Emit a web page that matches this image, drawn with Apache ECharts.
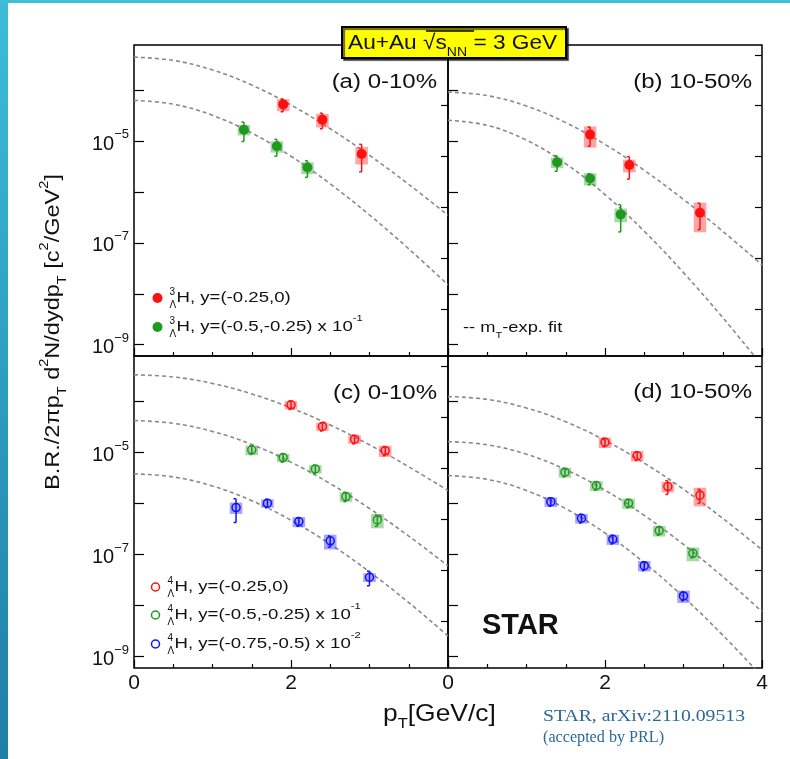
<!DOCTYPE html>
<html><head><meta charset="utf-8">
<script src="https://cdn.jsdelivr.net/npm/echarts@6/dist/echarts.min.js"></script>
<style>html,body{margin:0;padding:0;background:#fff}#c{width:790px;height:759px}</style>
</head><body><div id="c"></div><script>
// ---------------- data ----------------
const xTicks = [0, 2, 4];
const yDecadeTicks = [1e-9, 1e-8, 1e-7, 1e-6, 1e-5, 1e-4];
const yFiveTicks = [5e-9, 5e-8, 5e-7, 5e-6, 5e-5, 5e-4];
const yLabeled = [1e-9, 1e-7, 1e-5];

// fit curves (m_T-exponential), read at these pT values
const fitPt = [0, 0.5, 1, 1.5, 2, 2.5, 3, 3.5, 4];
const fitA_y1 = [4.50e-4, 3.88e-4, 2.52e-4, 1.27e-4, 5.15e-5, 1.76e-5, 5.27e-6, 1.42e-6, 3.51e-7];
const fitA_y2 = [6.37e-5, 5.36e-5, 3.23e-5, 1.45e-5, 5.07e-6, 1.45e-6, 3.55e-7, 7.67e-8, 1.50e-8];
const fitB_y1 = [9.27e-5, 7.88e-5, 4.91e-5, 2.32e-5, 8.67e-6, 2.68e-6, 7.16e-7, 1.70e-7, 3.71e-8];
const fitB_y2 = [2.58e-5, 2.05e-5, 1.05e-5, 3.61e-6, 8.95e-7, 1.70e-7, 2.61e-8, 3.41e-9, 3.9e-10];
const fitC_y1 = [3.34e-4, 3.03e-4, 2.26e-4, 1.41e-4, 7.50e-5, 3.46e-5, 1.42e-5, 5.26e-6, 1.80e-6];
const fitC_y2 = [4.24e-5, 3.74e-5, 2.59e-5, 1.44e-5, 6.49e-6, 2.46e-6, 8.02e-7, 2.31e-7, 6.0e-8];
const fitC_y3 = [3.82e-6, 3.33e-6, 2.21e-6, 1.14e-6, 4.72e-7, 1.60e-7, 4.59e-8, 1.15e-8, 2.55e-9];
const fitD_y1 = [1.25e-4, 1.10e-4, 7.47e-5, 4.00e-5, 1.73e-5, 6.22e-6, 1.91e-6, 5.13e-7, 1.24e-7];
const fitD_y2 = [1.64e-5, 1.42e-5, 9.27e-6, 4.63e-6, 1.83e-6, 5.87e-7, 1.58e-7, 3.69e-8, 7.62e-9];
const fitD_y3 = [3.54e-6, 2.98e-6, 1.80e-6, 7.94e-7, 2.65e-7, 6.93e-8, 1.48e-8, 2.64e-9, 4.1e-10];

// (a) 3H 0-10%
const ptA1 = [1.9, 2.4, 2.9];
const valA1 = [5.3e-5, 2.66e-5, 5.6e-6];
const statA1 = [1.5e-5, 9e-6, 3.1e-6];
const sysA1 = [1.4e-5, 8e-6, 2.1e-6];
const ptA2 = [1.4, 1.82, 2.21];
const valA2 = [1.69e-5, 7.98e-6, 3.05e-6];
const statA2 = [7e-6, 2.9e-6, 1.1e-6];
const sysA2 = [3.9e-6, 2e-6, 8e-7];
// (b) 3H 10-50%
const ptB1 = [1.81, 2.31, 3.21];
const valB1 = [1.35e-5, 3.4e-6, 3.93e-7];
const statB1 = [5.5e-6, 1.6e-6, 2.1e-7];
const sysB1 = [6e-6, 9.5e-7, 2.3e-7];
const ptB2 = [1.39, 1.81, 2.2];
const valB2 = [3.87e-6, 1.85e-6, 3.65e-7];
const statB2 = [1.3e-6, 4.5e-7, 2e-7];
const sysB2 = [9e-7, 5e-7, 1.1e-7];
// (c) 4H 0-10%
const ptC1 = [2.0, 2.4, 2.81, 3.2];
const valC1 = [8.6e-5, 3.24e-5, 1.83e-5, 1.09e-5];
const statC1 = [1.6e-5, 6e-6, 3.5e-6, 2.2e-6];
const sysC1 = [1.6e-5, 6e-6, 3.5e-6, 2.7e-6];
const ptC2 = [1.5, 1.9, 2.31, 2.7, 3.1];
const valC2 = [1.13e-5, 7.98e-6, 4.78e-6, 1.37e-6, 4.78e-7];
const statC2 = [2.1e-6, 1.5e-6, 9e-7, 2.8e-7, 1.2e-7];
const sysC2 = [2.4e-6, 1.5e-6, 9e-7, 2.9e-7, 1.5e-7];
const ptC3 = [1.3, 1.7, 2.1, 2.5, 3.0];
const valC3 = [8.36e-7, 1.02e-6, 4.44e-7, 1.86e-7, 3.6e-8];
const statC3 = [4.1e-7, 1.9e-7, 8.5e-8, 4.6e-8, 1.15e-8];
const sysC3 = [2.1e-7, 1.9e-7, 1e-7, 6e-8, 7e-9];
// (d) 4H 10-50%
const ptD1 = [2.0, 2.41, 2.8, 3.21];
const valD1 = [1.6e-5, 8.7e-6, 2.16e-6, 1.46e-6];
const statD1 = [3e-6, 1.7e-6, 6.5e-7, 4.4e-7];
const sysD1 = [3.7e-6, 2e-6, 5e-7, 5.8e-7];
const ptD2 = [1.49, 1.89, 2.3, 2.69, 3.12];
const valD2 = [4.12e-6, 2.26e-6, 1.02e-6, 2.96e-7, 1.06e-7];
const statD2 = [7.8e-7, 4.3e-7, 1.9e-7, 5.6e-8, 2e-8];
const sysD2 = [9e-7, 5e-7, 2.3e-7, 7e-8, 3.2e-8];
const ptD3 = [1.31, 1.7, 2.1, 2.5, 3.0];
const valD3 = [1.09e-6, 5.16e-7, 2.0e-7, 6.08e-8, 1.55e-8];
const statD3 = [2e-7, 1e-7, 3.8e-8, 1.2e-8, 3e-9];
const sysD3 = [2.3e-7, 1.1e-7, 4.5e-8, 1.4e-8, 4.2e-9];

// ---------------- styles ----------------
const FONT = 'Liberation Sans, Arial, sans-serif';
const RED = '#ff1010', GREEN = '#1f9a1f', BLUE = '#1010ff';
const RED_BOX = 'rgba(255,40,40,0.42)', GREEN_BOX = 'rgba(30,150,30,0.38)', BLUE_BOX = 'rgba(40,40,255,0.42)';
const YMIN = 6.0e-10, YMAX = 7.8e-4;
const BOXW = 0.08;
const TXT = '#111';

const zip2 = (a, b) => a.map((v, i) => [v, b[i]]);
const zip4 = (a, b, c, d) => a.map((v, i) => [v, b[i], c[i], d[i]]);

const grids = [
  {left: 134, top: 45, width: 314, height: 311},
  {left: 448, top: 45, width: 314, height: 311},
  {left: 134, top: 356, width: 314, height: 312},
  {left: 448, top: 356, width: 314, height: 312}
].map(g => Object.assign({show: true, borderColor: '#000', borderWidth: 1.5, backgroundColor: 'transparent'}, g));

const xAxes = grids.map((g, i) => ({
  gridIndex: i, type: 'value', min: 0, max: 4, interval: 2,
  axisLine: {show: false}, splitLine: {show: false},
  axisTick: {show: true, inside: true, length: 8, lineStyle: {color: '#000', width: 1.2}},
  minorTick: {show: true, splitNumber: 4, length: 4, lineStyle: {color: '#000', width: 1.2}},
  axisLabel: {show: i >= 2, margin: 5, fontSize: 21, color: TXT, fontFamily: FONT,
    showMinLabel: true, showMaxLabel: true,
    formatter: v => (i === 2 && v === 4) ? '' : String(v)}
}));

const yAxes = [];
grids.forEach((g, i) => {
  yAxes.push({
    gridIndex: i, type: 'log', logBase: 10, min: YMIN, max: YMAX,
    axisLine: {show: false}, splitLine: {show: false}, minorTick: {show: false},
    axisTick: {show: true, inside: true, length: 10, customValues: yDecadeTicks, lineStyle: {color: '#000', width: 1.2}},
    axisLabel: {show: i % 2 === 0, customValues: yLabeled, margin: 5,
      formatter: v => '{b|10}{s|−' + Math.round(-Math.log10(v)) + '}',
      rich: {
        b: {fontSize: 20, fontFamily: FONT, color: TXT, lineHeight: 26, verticalAlign: 'bottom'},
        s: {fontSize: 13, fontFamily: FONT, color: TXT, lineHeight: 12, verticalAlign: 'top'}
      }}
  });
  yAxes.push({
    gridIndex: i, type: 'log', logBase: 10, min: YMIN, max: YMAX,
    axisLine: {show: false}, splitLine: {show: false}, minorTick: {show: false},
    axisTick: {show: true, inside: true, length: 7, customValues: yFiveTicks, lineStyle: {color: '#000', width: 1.2}},
    axisLabel: {show: false}
  });
});

function fitSeries(panel, arr) {
  return {type: 'line', xAxisIndex: panel, yAxisIndex: 2 * panel, data: zip2(fitPt, arr),
    smooth: 0.4, symbol: 'none', showSymbol: false, silent: true, clip: true, z: 2,
    lineStyle: {color: '#8a8a8a', width: 1.6, type: [4, 3]}};
}
function makeRender(color, boxColor, filled) {
  return function (params, api) {
    const x = api.value(0), y = api.value(1), st = api.value(2), sy = api.value(3);
    const c = api.coord([x, y]);
    const b1 = api.coord([x - BOXW, y + sy]);
    const b2 = api.coord([x + BOXW, Math.max(y - sy, y * 0.05)]);
    const e1 = api.coord([x, y + st]);
    const e2 = api.coord([x, Math.max(y - st, y * 0.05)]);
    const ls = {stroke: color, lineWidth: 1.5};
    return {type: 'group', children: [
      {type: 'rect', shape: {x: b1[0], y: b1[1], width: b2[0] - b1[0], height: b2[1] - b1[1]}, style: {fill: boxColor}},
      {type: 'line', shape: {x1: e1[0], y1: e1[1], x2: e2[0], y2: e2[1]}, style: ls},
      {type: 'line', shape: {x1: e1[0] - 2.5, y1: e1[1], x2: e1[0], y2: e1[1]}, style: ls},
      {type: 'line', shape: {x1: e2[0] - 2.5, y1: e2[1], x2: e2[0], y2: e2[1]}, style: ls},
      {type: 'circle', shape: {cx: c[0], cy: c[1], r: filled ? 5 : 4},
        style: filled ? {fill: color} : {fill: 'none', stroke: color, lineWidth: 1.5}}
    ]};
  };
}
function pointSeries(panel, pt, val, stat, sys, color, boxColor, filled) {
  return {type: 'custom', xAxisIndex: panel, yAxisIndex: 2 * panel, data: zip4(pt, val, stat, sys),
    renderItem: makeRender(color, boxColor, filled), z: 5, silent: true};
}

const series = [
  fitSeries(0, fitA_y1), fitSeries(0, fitA_y2),
  fitSeries(1, fitB_y1), fitSeries(1, fitB_y2),
  fitSeries(2, fitC_y1), fitSeries(2, fitC_y2), fitSeries(2, fitC_y3),
  fitSeries(3, fitD_y1), fitSeries(3, fitD_y2), fitSeries(3, fitD_y3),
  pointSeries(0, ptA1, valA1, statA1, sysA1, RED, RED_BOX, true),
  pointSeries(0, ptA2, valA2, statA2, sysA2, GREEN, GREEN_BOX, true),
  pointSeries(1, ptB1, valB1, statB1, sysB1, RED, RED_BOX, true),
  pointSeries(1, ptB2, valB2, statB2, sysB2, GREEN, GREEN_BOX, true),
  pointSeries(2, ptC1, valC1, statC1, sysC1, RED, RED_BOX, false),
  pointSeries(2, ptC2, valC2, statC2, sysC2, GREEN, GREEN_BOX, false),
  pointSeries(2, ptC3, valC3, statC3, sysC3, BLUE, BLUE_BOX, false),
  pointSeries(3, ptD1, valD1, statD1, sysD1, RED, RED_BOX, false),
  pointSeries(3, ptD2, valD2, statD2, sysD2, GREEN, GREEN_BOX, false),
  pointSeries(3, ptD3, valD3, statD3, sysD3, BLUE, BLUE_BOX, false)
];

// ---------------- text / decoration ----------------
function richBase(fs, color, family, weight) {
  const s = Math.round(fs * 0.62);
  return {
    b: {fontSize: fs, fontFamily: family, color: color, fontWeight: weight, lineHeight: fs + 10, verticalAlign: 'middle'},
    sup: {fontSize: s, fontFamily: family, color: color, fontWeight: weight, lineHeight: s, verticalAlign: 'top'},
    sub: {fontSize: s, fontFamily: family, color: color, fontWeight: weight, lineHeight: s, verticalAlign: 'bottom'}
  };
}
function txt(x, y, text, fs, opts) {
  opts = opts || {};
  const color = opts.color || TXT, family = opts.family || FONT, weight = opts.weight || 'normal';
  return {type: 'text', x: x, y: y, z: 100, scaleX: opts.sx || 1, rotation: opts.rot || 0,
    style: {text: text, rich: richBase(fs, color, family, weight), align: opts.align || 'left', verticalAlign: 'middle',
      fill: color, fontSize: fs, fontFamily: family, fontWeight: weight}};
}
function legendRow(x, y, color, filled, iso, rest) {
  return [
    {type: 'circle', z: 100, shape: {cx: x, cy: y, r: filled ? 5 : 4},
      style: filled ? {fill: color} : {fill: 'none', stroke: color, lineWidth: 1.5}},
    {type: 'text', z: 100, x: x + 12, y: y - 6, style: {text: iso, fontSize: 10, fontFamily: FONT, fill: TXT, verticalAlign: 'middle'}},
    {type: 'text', z: 100, x: x + 12, y: y + 7, style: {text: 'Λ', fontSize: 10, fontFamily: FONT, fill: TXT, verticalAlign: 'middle'}},
    txt(x + 19, y, rest, 15, {sx: 1.24})
  ];
}

const graphic = [
  {type: 'rect', z: 0, shape: {x: 0, y: 0, width: 8, height: 759},
    style: {fill: new echarts.graphic.LinearGradient(0, 0, 0, 1, [{offset: 0, color: '#3cbdd6'}, {offset: 1, color: '#1f7ea6'}])}},
  {type: 'rect', z: 0, shape: {x: 0, y: 0, width: 790, height: 3}, style: {fill: '#3fc0d8'}},
  // title box
  {type: 'rect', z: 100, shape: {x: 342, y: 27, width: 224, height: 31},
    style: {fill: '#ffff00', stroke: '#000', lineWidth: 2, shadowColor: 'rgba(0,0,0,0.6)', shadowOffsetX: 2, shadowOffsetY: 2, shadowBlur: 1}},
  txt(348, 43, '{b|Au+Au √}{b|s}{sub|NN}{b| = 3 GeV}', 21, {sx: 1.08}),
  {type: 'line', z: 101, shape: {x1: 426, y1: 31, x2: 474, y2: 31}, style: {stroke: '#000', lineWidth: 1.3}},
  // panel labels
  txt(437, 82, '(a) 0-10%', 20, {align: 'right', sx: 1.2}),
  txt(752, 82, '(b) 10-50%', 20, {align: 'right', sx: 1.2}),
  txt(437, 393, '(c) 0-10%', 20, {align: 'right', sx: 1.2}),
  txt(752, 392, '(d) 10-50%', 20, {align: 'right', sx: 1.2}),
  // axis titles
  txt(53, 332, '{b|B.R./2πp}{sub|T}{b| d}{sup|2}{b|N/dydp}{sub|T}{b| [c}{sup|2}{b|/GeV}{sup|2}{b|]}', 21, {align: 'center', rot: Math.PI / 2, sx: 1.12}),
  txt(383, 714, '{b|p}{sub|T}{b|[GeV/c]}', 24, {sx: 1.1}),
  // misc
  txt(463, 328, '{b|-- m}{sub|T}{b|-exp. fit}', 15, {sx: 1.22}),
  txt(482, 626, 'STAR', 29, {weight: 'bold'}),
  txt(543, 717, 'STAR, arXiv:2110.09513', 17, {family: 'Liberation Serif, serif', color: '#2c6796', sx: 1.16}),
  txt(543, 738, '(accepted by PRL)', 17, {family: 'Liberation Serif, serif', color: '#2c6796', sx: 0.95})
]
.concat(legendRow(157.5, 298, RED, true, '3', '{b|H, y=(-0.25,0)}'))
.concat(legendRow(157.5, 327, GREEN, true, '3', '{b|H, y=(-0.5,-0.25) x 10}{sup|-1}'))
.concat(legendRow(155.5, 587, RED, false, '4', '{b|H, y=(-0.25,0)}'))
.concat(legendRow(155.5, 615, GREEN, false, '4', '{b|H, y=(-0.5,-0.25) x 10}{sup|-1}'))
.concat(legendRow(155.5, 644, BLUE, false, '4', '{b|H, y=(-0.75,-0.5) x 10}{sup|-2}'));

const chart = echarts.init(document.getElementById('c'), null, {renderer: 'canvas'});
chart.setOption({
  animation: false,
  backgroundColor: '#fff',
  grid: grids, xAxis: xAxes, yAxis: yAxes, series: series, graphic: graphic
});
</script></body></html>
